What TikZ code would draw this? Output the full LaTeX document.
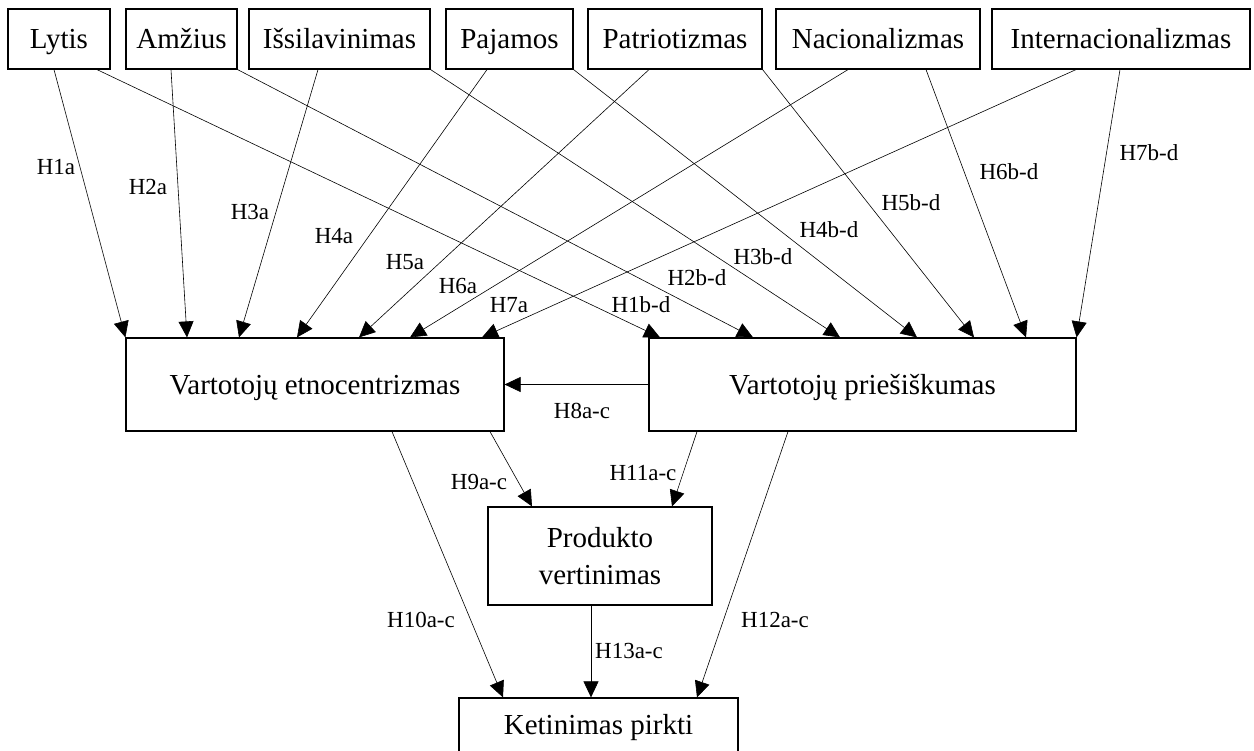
\documentclass[tikz,border=0pt]{standalone}
\usepackage{fontspec}
\setmainfont{Liberation Serif}
\usetikzlibrary{arrows.meta}

\begin{document}
\begin{tikzpicture}[x=1pt,y=-1pt,>={Triangle[length=16pt,width=15pt]},
  box/.style={draw,line width=1.2pt,inner sep=0pt,align=center,font=\fontsize{29}{37}\selectfont},
  onebox/.style={box,text height=19.5pt,text depth=0pt},
  edge/.style={->,line width=0.6pt},
  lbl/.style={inner sep=0pt,font=\fontsize{23}{28}\selectfont}]
\useasboundingbox (0,0) rectangle (1254,751);
% factors
\node[onebox,minimum width=102pt,minimum height=60pt] (lyt) at (59,39) {Lytis};
\node[onebox,minimum width=111pt,minimum height=60pt] (amz) at (181.5,39) {Amžius};
\node[onebox,minimum width=181pt,minimum height=60pt] (iss) at (339.5,39) {Išsilavinimas};
\node[onebox,minimum width=127pt,minimum height=60pt] (paj) at (509.5,39) {Pajamos};
\node[onebox,minimum width=174pt,minimum height=60pt] (pat) at (675,39) {Patriotizmas};
\node[onebox,minimum width=204pt,minimum height=60pt] (nac) at (878,39) {Nacionalizmas};
\node[onebox,minimum width=258pt,minimum height=60pt] (int) at (1121,39) {Internacionalizmas};
% middle and bottom
\node[onebox,minimum width=378pt,minimum height=93pt] (etn) at (315,384.5) {Vartotojų etnocentrizmas};
\node[onebox,minimum width=427pt,minimum height=93pt] (pri) at (862.5,384.5) {Vartotojų priešiškumas};
\node[box,minimum width=224pt,minimum height=98pt] (prd) at (600,556) {Produkto\\vertinimas};
\node[onebox,minimum width=279pt,minimum height=54pt] (ket) at (598.5,725) {Ketinimas pirkti};

% into etnocentrizmas
\draw[edge] ([xshift=-5pt]lyt.south) -- (etn.north west);
\draw[edge] ([xshift=-10.5pt]amz.south) -- ([xshift=-128pt]etn.north);
\draw[edge] ([xshift=-21.5pt]iss.south) -- ([xshift=-76pt]etn.north);
\draw[edge] ([xshift=-22.5pt]paj.south) -- ([xshift=-18pt]etn.north);
\draw[edge] ([xshift=-26pt]pat.south) -- ([xshift=44pt]etn.north);
\draw[edge] ([xshift=-30pt]nac.south) -- ([xshift=95pt]etn.north);
\draw[edge] ([xshift=-45pt]int.south) -- ([xshift=167pt]etn.north);
% into priesiskumas
\draw[edge] ([xshift=38pt]lyt.south) -- ([xshift=-202.5pt]pri.north);
\draw[edge] (amz.south east) -- ([xshift=-109.5pt]pri.north);
\draw[edge] (iss.south east) -- ([xshift=-22.5pt]pri.north);
\draw[edge] (paj.south east) -- ([xshift=54.5pt]pri.north);
\draw[edge] (pat.south east) -- ([xshift=111.5pt]pri.north);
\draw[edge] ([xshift=48pt]nac.south) -- ([xshift=163.5pt]pri.north);
\draw[edge] ([xshift=-1pt]int.south) -- (pri.north east);
% lower part
\draw[edge] (pri.west) -- (etn.east);
\draw[edge] ([xshift=175pt]etn.south) -- ([xshift=-68pt]prd.north);
\draw[edge] ([xshift=77pt]etn.south) -- ([xshift=-95.5pt]ket.north);
\draw[edge] ([xshift=-165.5pt]pri.south) -- ([xshift=72pt]prd.north);
\draw[edge] ([xshift=-74.5pt]pri.south) -- ([xshift=98.5pt]ket.north);
\draw[edge] ([xshift=-9pt]prd.south) -- ([xshift=-7.5pt]ket.north);

% hypotheses
\node[lbl] (h1a) at (56,167) {H1a};
\node[lbl] (h2a) at (148,187) {H2a};
\node[lbl] (h3a) at (250,212) {H3a};
\node[lbl] (h4a) at (334,236) {H4a};
\node[lbl] (h5a) at (405,262) {H5a};
\node[lbl] (h6a) at (458,286) {H6a};
\node[lbl] (h7a) at (509,305) {H7a};
\node[lbl] (h1bd) at (641,305) {H1b-d};
\node[lbl] (h2bd) at (697,278) {H2b-d};
\node[lbl] (h3bd) at (763,257) {H3b-d};
\node[lbl] (h4bd) at (829,230) {H4b-d};
\node[lbl] (h5bd) at (911,203) {H5b-d};
\node[lbl] (h6bd) at (1009,172) {H6b-d};
\node[lbl] (h7bd) at (1149,153) {H7b-d};
\node[lbl] (h8) at (582,411) {H8a-c};
\node[lbl] (h9) at (479,482) {H9a-c};
\node[lbl] (h11) at (643,473) {H11a-c};
\node[lbl] (h10) at (421,620) {H10a-c};
\node[lbl] (h13) at (629,651) {H13a-c};
\node[lbl] (h12) at (775,620) {H12a-c};
\end{tikzpicture}
\end{document}
